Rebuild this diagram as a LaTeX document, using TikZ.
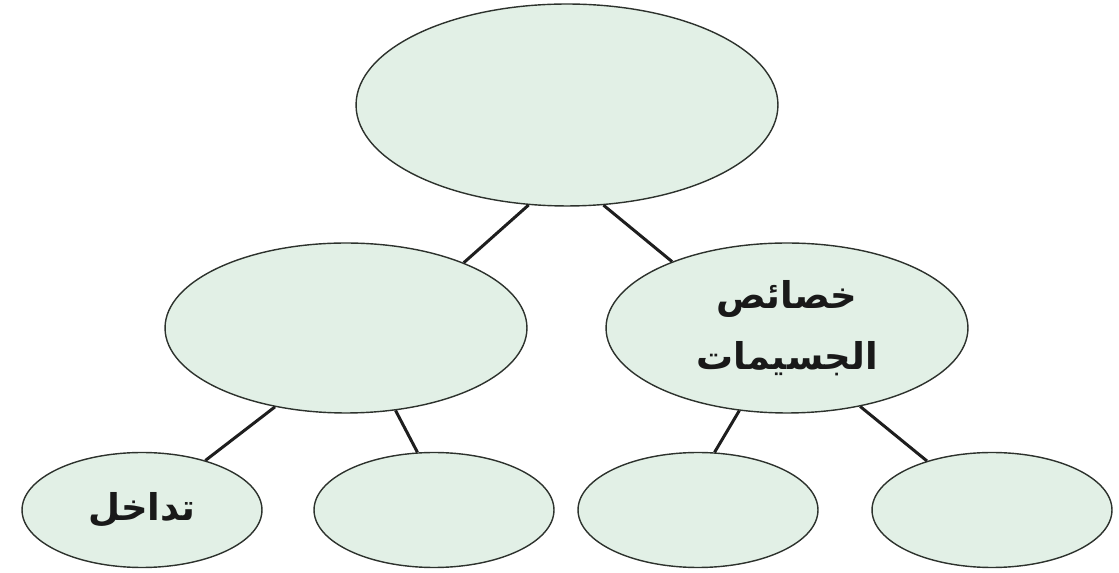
\documentclass[tikz,border=0pt]{standalone}
\usepackage{fontspec}
\usepackage{xcolor}
\usepackage{tikz}
\usetikzlibrary{shapes.geometric}
\TeXXeTstate=1
\newfontfamily\arabicfont[Script=Arabic]{DejaVu Sans}

\begin{document}
\begin{tikzpicture}[
        x=0.02cm, y=-0.02cm,
        bubble/.style={ellipse, draw={rgb,255:red,45;green,50;blue,45}, line width=0.8pt,
            fill={rgb,255:red,226;green,240;blue,230}, inner sep=0pt,
            text={rgb,255:red,25;green,25;blue,25}, align=center,
            font=\arabicfont\bfseries\fontsize{21}{35}\selectfont},
        rootbubble/.style={bubble, minimum width=8.44cm, minimum height=4.04cm},
        midbubble/.style={bubble, minimum width=7.24cm, minimum height=3.4cm},
        leafbubble/.style={bubble, minimum width=4.8cm, minimum height=2.3cm},
        branch/.style={line width=1.7pt, draw={rgb,255:red,30;green,30;blue,30}},
    ]
        \useasboundingbox (0,0) rectangle (1119,573);

        % Root
        \node[rootbubble] (root) at (567,105) {};

        % Second level
        \node[midbubble] (midleft) at (346,328) {};
        \node[midbubble] (midright) at (787,328)
            {\beginR خصائص\endR\\\beginR الجسيمات\endR};

        % Leaves
        \node[leafbubble] (leafA) at (142,510) {\beginR تداخل\endR};
        \node[leafbubble] (leafB) at (434,510) {};
        \node[leafbubble] (leafC) at (698,510) {};
        \node[leafbubble] (leafD) at (992,510) {};

        % Branches
        \draw[branch] (root.-111) -- (midleft.29.6);
        \draw[branch] (root.-70.7) -- (midright.150);
        \draw[branch] (midleft.228) -- (leafA.38.4);
        \draw[branch] (midleft.-59) -- (leafB.106);
        \draw[branch] (midright.240) -- (leafC.74);
        \draw[branch] (midright.-47.3) -- (leafD.143.7);

    \end{tikzpicture}
\end{document}
